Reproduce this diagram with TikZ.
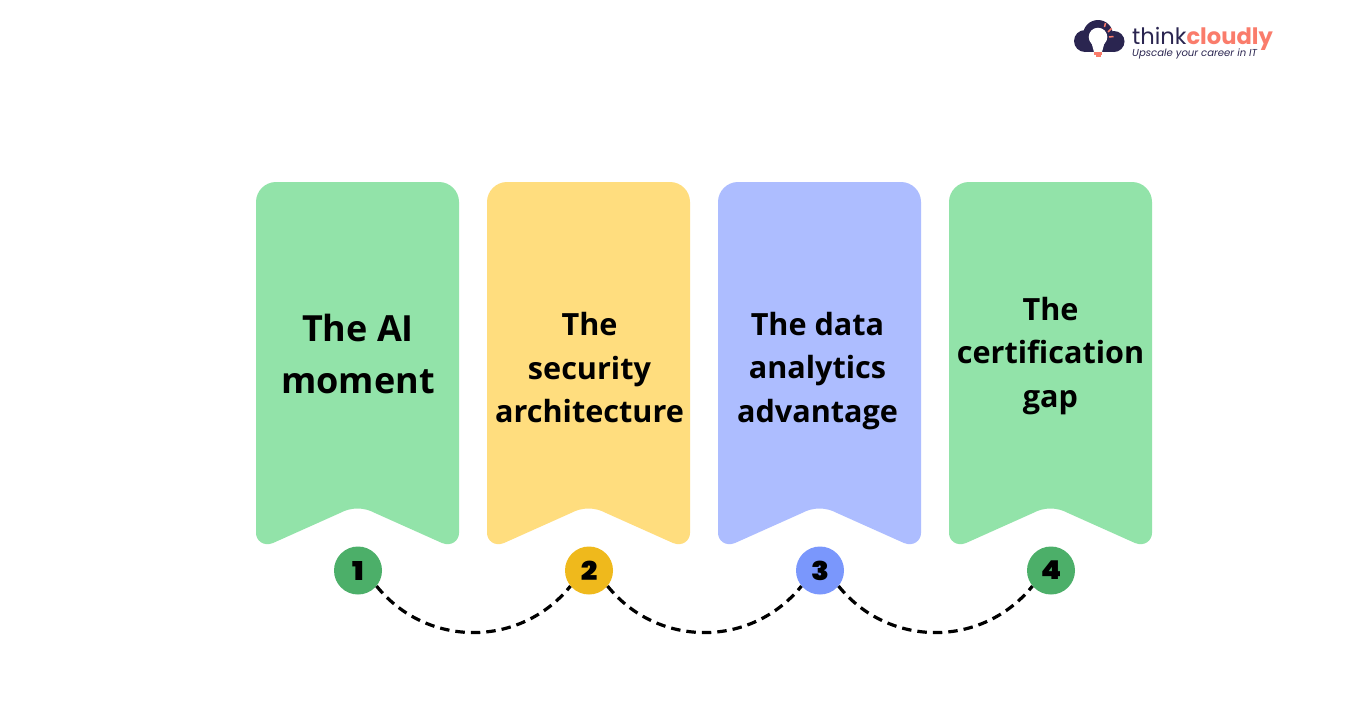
\documentclass[tikz,border=0pt]{standalone}
\usepackage{fontspec}
\usetikzlibrary{calc}
\setmainfont{Open Sans}
\newfontfamily\numfont{Poppins}[BoldFont={Poppins Black},BoldFeatures={FakeStretch=1.12}]
\newfontfamily\logofont{Poppins}
\definecolor{bgreen}{HTML}{92E3A9}
\definecolor{byellow}{HTML}{FFDD7E}
\definecolor{bblue}{HTML}{ADBDFF}
\definecolor{cgreen}{HTML}{4CAF69}
\definecolor{cyellow}{HTML}{EFB91C}
\definecolor{cblue}{HTML}{7A97FC}
\definecolor{navy}{HTML}{2A2550}
\definecolor{salmon}{HTML}{FA7C6B}
\tikzset{
  banner/.pic={
    \fill[pic actions] (0,20) .. controls (0,9) and (9,0) .. (20,0) -- (183,0)
      .. controls (194,0) and (203,9) .. (203,20) -- (203,351)
      .. controls (203,358) and (196,365) .. (186,361)
      -- (119,331) .. controls (108,325) and (95,325) .. (84,331)
      -- (17,361) .. controls (7,365) and (0,358) .. (0,351) -- cycle;
  },
  label/.style={font=\bfseries, align=center, text=black, inner sep=0pt},
  bignum/.style={circle, minimum size=48pt, inner sep=0pt, text=black, font=\numfont\fontsize{26}{26}\selectfont\bfseries},
  link/.style={draw=black, line width=3.2pt, dash pattern=on 9.5pt off 6pt},
}
\begin{document}
\begin{tikzpicture}[x=1pt,y=-1pt]
\useasboundingbox (0,0) rectangle (1349,705);
\fill[white] (0,0) rectangle (1349,705);
\pic[fill=bgreen] at (256,182) {banner};
\pic[fill=byellow] at (487,182) {banner};
\pic[fill=bblue] at (718,182) {banner};
\pic[fill=bgreen] at (949,182) {banner};

\node[label,font=\bfseries\fontsize{36}{52}\selectfont] (t1) at (358,354) {The AI\\moment};
\node[label,font=\bfseries\fontsize{30.6}{43.5}\selectfont] (t2) at (589.5,368) {The\\security\\architecture};
\node[label,font=\bfseries\fontsize{30.6}{43.5}\selectfont] (t3) at (817.5,371) {The data\\analytics\\advantage};
\node[label,font=\bfseries\fontsize{30.6}{43.5}\selectfont] (t4) at (1050.5,356) {The\\certification\\gap};

\node[bignum,fill=cgreen] (n1) at (358,570.5) {1};
\node[bignum,fill=cyellow] (n2) at (589,570.5) {2};
\node[bignum,fill=cblue] (n3) at (820,570.5) {3};
\node[bignum,fill=cgreen] (n4) at (1051,570.5) {4};

\draw[link] (n1.-40) .. controls ($(n1.-40)+(50,62)$) and ($(n2.220)+(-50,62)$) .. (n2.220);
\draw[link] (n2.-40) .. controls ($(n2.-40)+(50,62)$) and ($(n3.220)+(-50,62)$) .. (n3.220);
\draw[link] (n3.-40) .. controls ($(n3.-40)+(50,62)$) and ($(n4.220)+(-50,62)$) .. (n4.220);

% logo
\fill[navy] (1085,41) circle (11) (1098,35) circle (15) (1114,41.5) circle (10.5);
\fill[navy] (1085,38) rectangle (1114,52);
\fill[white] (1098,37) circle (9.3);
\fill[white] (1091,41) -- (1105,41) -- (1102,52) -- (1094,52) -- cycle;
\fill[salmon] (1094,52) rectangle (1102,55);
\fill[salmon] (1095.5,55) rectangle (1100.5,57);
\draw[salmon,line width=1.5pt] (1104.5,27) -- (1105.5,23) (1108,32) -- (1111.5,28.5) (1109,37) -- (1113.5,36.5);
\node[anchor=base west,inner sep=0pt,text=navy,font=\logofont\fontsize{22.6}{22.6}\selectfont] (lg) at (1132,44.5) {think\textcolor{salmon}{\bfseries cloudly}};
\node[anchor=base west,inner sep=0pt,text=navy,font=\logofont\itshape\fontsize{10.1}{10.1}\selectfont] (tg) at (1132,56.5) {Upscale your career in IT};
\end{tikzpicture}
\end{document}
